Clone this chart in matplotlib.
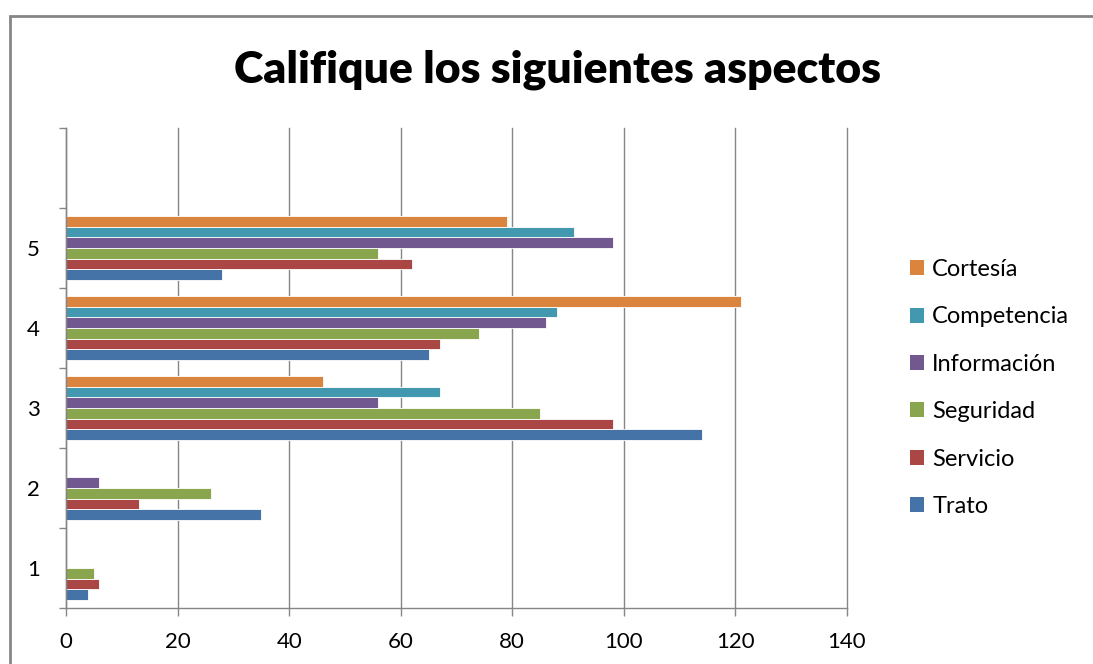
import matplotlib.pyplot as plt
import numpy as np
from matplotlib.patches import Rectangle, Patch

plt.rcParams["font.family"] = ["Lato", "DejaVu Sans"]

# Categories (a sixth, empty slot sits at the top in the original)
categories = ["1", "2", "3", "4", "5", ""]
series = ["Trato", "Servicio", "Seguridad", "Información", "Competencia", "Cortesía"]
colors = ["#4572A7", "#AA4643", "#89A54E", "#71588F", "#4198AF", "#DB843D"]

trato = [4, 35, 114, 65, 28, 0]
servicio = [6, 13, 98, 67, 62, 0]
seguridad = [5, 26, 85, 74, 56, 0]
informacion = [0, 6, 56, 86, 98, 0]
competencia = [0, 0, 67, 88, 91, 0]
cortesia = [0, 0, 46, 121, 79, 0]
values = [trato, servicio, seguridad, informacion, competencia, cortesia]

fig = plt.figure(figsize=(10.93, 6.64), dpi=100)
ax = fig.add_axes([66 / 1093, 1 - 608 / 664, (847 - 66) / 1093, (608 - 128) / 664])

pos = np.arange(1, len(categories) + 1)
group = 0.8
h = group / len(series)
for i, (name, vals, col) in enumerate(zip(series, values, colors)):
    ax.barh(pos - group / 2 + (i + 0.5) * h, vals, height=h, color=col,
            edgecolor="white", linewidth=0.6, label=name, zorder=3)

ax.set_xlim(0, 140)
ax.set_ylim(0.5, len(categories) + 0.5)
ax.set_xticks(np.arange(0, 141, 20))
ax.set_yticks(np.arange(0.5, len(categories) + 1, 1))
ax.set_yticklabels([])
ax.set_yticks(pos, minor=True)
ax.set_yticklabels(categories, minor=True)
ax.tick_params(axis="y", which="minor", length=0, pad=19, labelsize=16)
ax.tick_params(axis="y", which="major", length=5, color="#868686", width=1)
ax.tick_params(axis="x", length=6, color="#868686", width=1, labelsize=16, pad=11)
ax.grid(axis="x", color="#868686", linewidth=1, zorder=0)
for gl in ax.get_xgridlines():
    gl.set_clip_on(False)
for s in ["top", "right"]:
    ax.spines[s].set_visible(False)
for s in ["left", "bottom"]:
    ax.spines[s].set_color("#868686")
    ax.spines[s].set_linewidth(1)
    ax.spines[s].set_zorder(4)

fig.text(557 / 1093, 1 - 70 / 664, "Califique los siguientes aspectos",
         ha="center", va="center", fontsize=32, fontweight="heavy")

handles = [Patch(facecolor=c, edgecolor="none") for c in colors][::-1]
fig.legend(handles, series[::-1], loc="center left",
           bbox_to_anchor=(898 / 1093, 1 - 388 / 664), frameon=False,
           fontsize=17, handlelength=0.6, handleheight=0.6,
           handletextpad=0.35, labelspacing=1.12, borderpad=0)

# outer chart border
fig.add_artist(Rectangle((9.5 / 1093, -0.05), 1.2, 1 - 15.5 / 664 + 0.05,
                         transform=fig.transFigure, fill=False,
                         edgecolor="#868686", linewidth=2))

fig.savefig("out.png", dpi=100)
